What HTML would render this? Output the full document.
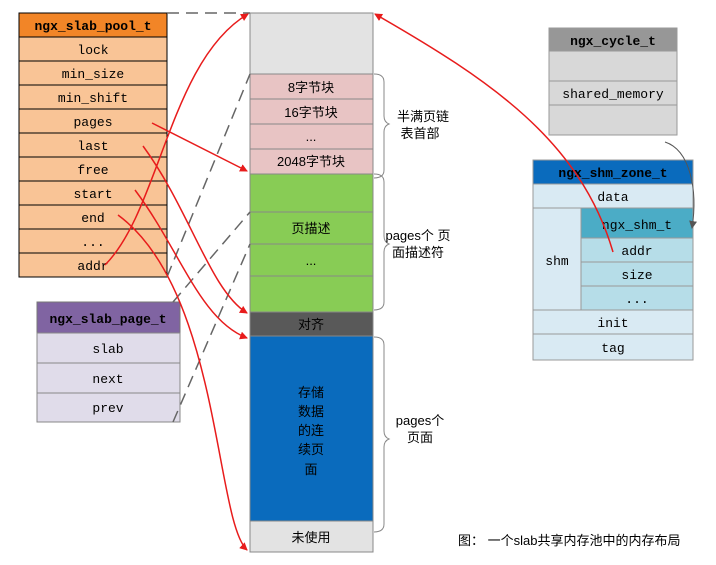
<!DOCTYPE html>
<html><head><meta charset="utf-8"><style>
body{margin:0;background:#fff;}
svg text{font-family:"Liberation Mono","Noto Sans CJK SC",monospace;font-size:13px;}
.c{font-family:"Liberation Sans","Noto Sans CJK SC",sans-serif;font-size:13px;}
</style></head><body>
<svg width="716" height="560" xmlns="http://www.w3.org/2000/svg">
<defs>
<marker id="ar" markerWidth="8" markerHeight="8" refX="7" refY="4" orient="auto" markerUnits="userSpaceOnUse"><path d="M0,0 L8,4 L0,8 z" fill="#e81c1c"/></marker>
<marker id="ag" markerWidth="8" markerHeight="8" refX="7" refY="4" orient="auto" markerUnits="userSpaceOnUse"><path d="M0,0 L8,4 L0,8 z" fill="#555"/></marker>
</defs>
<!-- pool table -->
<rect x="19" y="13" width="148" height="24" fill="#f28527" stroke="#000"/>
<text x="93" y="30" text-anchor="middle" font-weight="bold">ngx_slab_pool_t</text>
<g fill="#f9c496" stroke="#000">
<rect x="19" y="37" width="148" height="24"/><rect x="19" y="61" width="148" height="24"/><rect x="19" y="85" width="148" height="24"/><rect x="19" y="109" width="148" height="24"/><rect x="19" y="133" width="148" height="24"/><rect x="19" y="157" width="148" height="24"/><rect x="19" y="181" width="148" height="24"/><rect x="19" y="205" width="148" height="24"/><rect x="19" y="229" width="148" height="24"/><rect x="19" y="253" width="148" height="24"/>
</g>
<g text-anchor="middle">
<text x="93" y="54">lock</text><text x="93" y="78">min_size</text><text x="93" y="102">min_shift</text><text x="93" y="126">pages</text><text x="93" y="150">last</text><text x="93" y="174">free</text><text x="93" y="198">start</text><text x="93" y="222">end</text><text x="93" y="246">...</text><text x="93" y="270">addr</text>
</g>
<!-- page_t -->
<rect x="37" y="302" width="143" height="31" fill="#8064a2" stroke="#777"/>
<text x="108" y="323" text-anchor="middle" font-weight="bold">ngx_slab_page_t</text>
<g fill="#e0dcea" stroke="#888">
<rect x="37" y="333" width="143" height="30"/><rect x="37" y="363" width="143" height="30"/><rect x="37" y="393" width="143" height="29"/>
</g>
<g text-anchor="middle"><text x="108" y="353">slab</text><text x="108" y="383">next</text><text x="108" y="412">prev</text></g>
<!-- memory column -->
<g stroke="#888">
<rect x="250" y="13" width="123" height="61" fill="#e3e3e3"/>
<rect x="250" y="74" width="123" height="25" fill="#e8c4c4"/><rect x="250" y="99" width="123" height="25" fill="#e8c4c4"/><rect x="250" y="124" width="123" height="25" fill="#e8c4c4"/><rect x="250" y="149" width="123" height="25" fill="#e8c4c4"/>
<rect x="250" y="174" width="123" height="38" fill="#88cc55"/><rect x="250" y="212" width="123" height="32" fill="#88cc55"/><rect x="250" y="244" width="123" height="32" fill="#88cc55"/><rect x="250" y="276" width="123" height="36" fill="#88cc55"/>
<rect x="250" y="312" width="123" height="24" fill="#595959"/>
<rect x="250" y="336" width="123" height="185" fill="#0a6bbd"/>
<rect x="250" y="521" width="123" height="31" fill="#e3e3e3"/>
</g>
<g class="c" text-anchor="middle">
<text class="c" x="311" y="92">8字节块</text><text class="c" x="311" y="117">16字节块</text><text class="c" x="311" y="141">...</text><text class="c" x="311" y="166">2048字节块</text>
<text class="c" x="311" y="233">页描述</text><text class="c" x="311" y="265">...</text>
<text class="c" x="311" y="329">对齐</text>
<text class="c" x="311" y="397">存储</text><text class="c" x="311" y="416">数据</text><text class="c" x="311" y="435">的连</text><text class="c" x="311" y="454">续页</text><text class="c" x="311" y="474">面</text>
<text class="c" x="311" y="542">未使用</text>
</g>
<!-- braces -->
<g fill="none" stroke="#888">
<path d="M374,74 q10,0 10,8 v34 q0,6 5,8 q-5,2 -5,8 v38 q0,8 -10,8"/>
<path d="M374,174 q10,0 10,8 v54 q0,6 5,8 q-5,2 -5,8 v50 q0,8 -10,8"/>
<path d="M374,337 q10,0 10,8 v86 q0,6 5,8 q-5,2 -5,8 v77 q0,8 -10,8"/>
</g>
<g text-anchor="middle">
<text class="c" x="423" y="121">半满页链</text><text class="c" x="420" y="138">表首部</text>
<text class="c" x="418" y="240">pages个 页</text><text class="c" x="418" y="257">面描述符</text>
<text class="c" x="420" y="425">pages个</text><text class="c" x="420" y="442">页面</text>
</g>
<text class="c" x="458" y="545">图：   一个slab共享内存池中的内存布局</text>
<!-- cycle -->
<rect x="549" y="28" width="128" height="23" fill="#979797" stroke="#999"/>
<text x="613" y="45" text-anchor="middle" font-weight="bold">ngx_cycle_t</text>
<g fill="#d8d8d8" stroke="#999"><rect x="549" y="51" width="128" height="30"/><rect x="549" y="81" width="128" height="24"/><rect x="549" y="105" width="128" height="30"/></g>
<text x="613" y="98" text-anchor="middle">shared_memory</text>
<!-- shm zone -->
<rect x="533" y="160" width="160" height="24" fill="#0a6bbd" stroke="#999"/>
<text x="613" y="177" text-anchor="middle" font-weight="bold">ngx_shm_zone_t</text>
<g fill="#d9eaf3" stroke="#999">
<rect x="533" y="184" width="160" height="24"/><rect x="533" y="208" width="48" height="102"/><rect x="533" y="310" width="160" height="24"/><rect x="533" y="334" width="160" height="26"/>
</g>
<rect x="581" y="208" width="112" height="30" fill="#4bacc6" stroke="#999"/>
<g fill="#b6dde8" stroke="#999"><rect x="581" y="238" width="112" height="24"/><rect x="581" y="262" width="112" height="24"/><rect x="581" y="286" width="112" height="24"/></g>
<g text-anchor="middle">
<text x="613" y="201">data</text><text x="557" y="265">shm</text><text x="637" y="229">ngx_shm_t</text><text x="637" y="255">addr</text><text x="637" y="279">size</text><text x="637" y="303">...</text><text x="613" y="327">init</text><text x="613" y="352">tag</text>
</g>
<!-- dashed -->
<g stroke="#666" stroke-width="1.5" stroke-dasharray="12,7" fill="none">
<line x1="167" y1="13" x2="250" y2="13"/>
<line x1="167" y1="277" x2="250" y2="74"/>
<line x1="173" y1="302" x2="250" y2="212"/>
<line x1="173" y1="422" x2="250" y2="244"/>
</g>
<!-- red -->
<g stroke="#e81c1c" stroke-width="1.5" fill="none" marker-end="url(#ar)">
<path d="M105,265 C160,210 170,60 248,14"/>
<path d="M152,123 L247,171"/>
<path d="M143,146 C190,210 210,290 247,313"/>
<path d="M135,190 C180,250 200,320 247,338"/>
<path d="M118,215 C220,290 215,520 247,550"/>
<path d="M613,252 C580,140 490,80 375,14"/>
</g>
<path d="M665,142 C690,150 698,190 692,228" stroke="#555" fill="none" marker-end="url(#ag)"/>
</svg>
</body></html>
